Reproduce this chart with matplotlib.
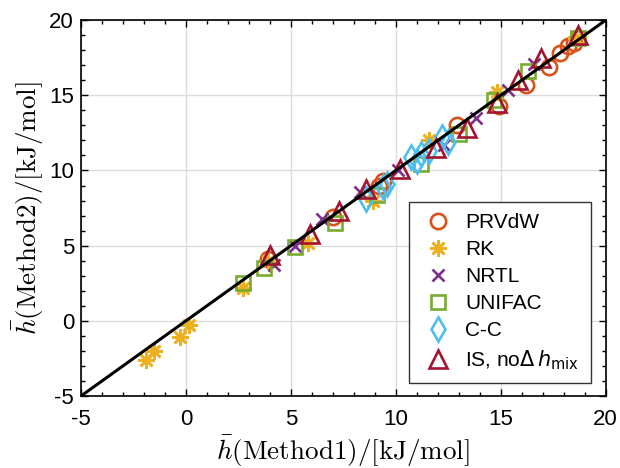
import numpy as np
import matplotlib
matplotlib.use("Agg")
import matplotlib.pyplot as plt
from matplotlib.ticker import MultipleLocator

plt.rcParams['font.family'] = ['Liberation Sans', 'DejaVu Sans']
plt.rcParams['axes.unicode_minus'] = False

# data (x = method 1, y = method 2), kJ/mol
prvdw_x = [3.9, 7.0, 9.2, 9.4, 12.9, 14.9, 16.2, 17.3, 17.8, 18.2, 18.5]
prvdw_y = [4.1, 6.9, 9.0, 9.3, 13.0, 14.3, 15.7, 16.9, 17.8, 18.3, 18.5]

rk_x = [-1.9, -1.5, -0.3, 0.15, 2.7, 3.9, 5.8, 8.9, 11.6, 14.8, 18.6]
rk_y = [-2.6, -2.0, -1.1, -0.3, 2.2, 4.0, 5.15, 8.0, 12.0, 15.2, 18.8]

nrtl_x = [4.2, 5.2, 6.5, 8.3, 10.1, 12.3, 13.8, 15.35, 16.6]
nrtl_y = [3.7, 5.0, 6.8, 8.6, 10.0, 11.7, 13.5, 15.35, 17.1]

unifac_x = [2.7, 3.7, 5.2, 7.1, 9.1, 11.2, 13.0, 14.7, 16.3, 18.7]
unifac_y = [2.5, 3.5, 4.9, 6.5, 8.4, 10.4, 12.4, 14.7, 16.6, 18.8]

cc_x = [8.6, 9.4, 9.6, 10.7, 11.0, 11.2, 11.6, 12.2, 12.5]
cc_y = [8.1, 8.9, 9.1, 10.9, 10.6, 11.1, 11.3, 12.2, 11.9]

is_x = [4.0, 5.9, 7.3, 8.6, 10.2, 11.9, 13.4, 14.8, 15.8, 16.9, 18.7]
is_y = [4.4, 5.8, 7.3, 8.8, 10.1, 11.5, 12.8, 14.5, 16.0, 17.5, 19.0]

lims = [-5, 20]

fig = plt.figure(figsize=(6.2, 4.68), dpi=100)
ax = fig.add_axes([0.1306, 0.1538, 0.977 - 0.1306, 0.957 - 0.1538])

ax.grid(True, color='#dcdcdc', linewidth=1.0, zorder=0)
ax.set_axisbelow(True)

mew = 1.9
ax.plot(prvdw_x, prvdw_y, 'o', ls='none', mfc='none', mec='#D95319', ms=11, mew=mew, label='PRVdW')
ax.plot(rk_x, rk_y, marker=(8, 2, 0), ls='none', color='#EDB120', ms=12, mew=mew, label='RK')
ax.plot(nrtl_x, nrtl_y, 'x', ls='none', color='#7E2F8E', ms=9, mew=mew, label='NRTL')
ax.plot(unifac_x, unifac_y, 's', ls='none', mfc='none', mec='#77AC30', ms=9.5, mew=mew, label='UNIFAC')
ax.plot(cc_x, cc_y, 'd', ls='none', mfc='none', mec='#4DBEEE', ms=12.5, mew=mew, label='C-C')
ax.plot(is_x, is_y, '^', ls='none', mfc='none', mec='#A2142F', ms=13, mew=mew, label=r'IS, no$\Delta\,h_{\mathrm{mix}}$')

ax.plot(lims, lims, color='black', lw=2.2, zorder=5)

ax.set_xlim(lims)
ax.set_ylim(lims)
ax.xaxis.set_major_locator(MultipleLocator(5))
ax.yaxis.set_major_locator(MultipleLocator(5))
ax.xaxis.set_minor_locator(MultipleLocator(1))
ax.yaxis.set_minor_locator(MultipleLocator(1))
ax.tick_params(which='both', direction='in', top=True, right=True, labelsize=16, width=1)
ax.tick_params(which='major', length=5)
ax.tick_params(which='minor', length=3)
ax.tick_params(axis='x', which='major', pad=9)
ax.tick_params(axis='y', which='major', pad=5)
for s in ax.spines.values():
    s.set_linewidth(1.2)

ax.set_xlabel(r'$\bar{h}(\mathrm{Method1})/[\mathrm{kJ/mol}]$', fontsize=19.5, math_fontfamily='cm', labelpad=3)
ax.set_ylabel(r'$\bar{h}(\mathrm{Method2})/[\mathrm{kJ/mol}]$', fontsize=19.5, math_fontfamily='cm', labelpad=2)

leg = ax.legend(loc='lower right', bbox_to_anchor=(0.9714, 0.0346), borderaxespad=0, frameon=True,
                fancybox=False, edgecolor='#333333', framealpha=1, handletextpad=0.45,
                borderpad=0.55, labelspacing=0.38, handlelength=1.7,
                prop={'size': 15, 'math_fontfamily': 'dejavusans'})
leg.get_frame().set_linewidth(1.0)

fig.savefig('out.png', dpi=100)
